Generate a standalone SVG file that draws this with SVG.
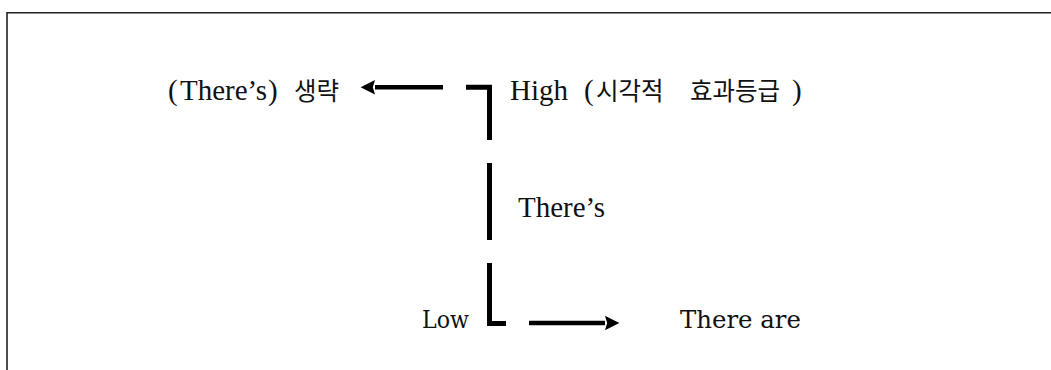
<svg xmlns="http://www.w3.org/2000/svg" width="1051" height="370" viewBox="0 0 1051 370">
<style>
.lat{font-family:"Liberation Serif","Noto Sans CJK KR",serif;font-size:29px;fill:#111}
.kor{font-family:"Noto Sans CJK KR",serif;font-size:24.5px;fill:#111}
.slab{font-family:"DejaVu Serif","Liberation Serif",serif;font-size:24px;fill:#111}
.ln{fill:none;stroke:#000;stroke-width:5;stroke-linecap:butt;stroke-linejoin:miter}
.sh{fill:none;stroke:#000;stroke-width:4.5}
</style>
<defs>
<marker id="ah" viewBox="0 0 10 10" refX="0" refY="5" markerWidth="3.7" markerHeight="3.2" markerUnits="strokeWidth" orient="auto">
<path d="M0,0 L10,5 L0,10 L1.5,5 Z" fill="#000"/>
</marker>
</defs>
<path d="M7,380 V12.7 H1060" fill="none" stroke="#222" stroke-width="1.6"/>
<g id="node-omit">
<text class="lat" y="100"><tspan x="168">(</tspan><tspan x="180">There’s</tspan><tspan x="268">)</tspan><tspan class="kor" x="294" y="100">생략</tspan></text>
</g>
<g id="node-high">
<text class="lat" y="100"><tspan x="510">High</tspan><tspan x="584">(</tspan><tspan class="kor" x="596" y="100">시각적</tspan><tspan class="kor" x="690" y="100">효과등급</tspan><tspan x="792">)</tspan></text>
</g>
<g id="node-theres">
<text class="lat" x="518" y="217">There’s</text>
</g>
<g id="node-low">
<text class="slab" x="422" y="328" textLength="47" lengthAdjust="spacingAndGlyphs">Low</text>
</g>
<g id="node-there-are">
<text class="slab" x="680" y="328" textLength="121" lengthAdjust="spacingAndGlyphs">There are</text>
</g>
<g id="connectors">
<line class="sh" x1="443" y1="87.3" x2="375" y2="87.3" marker-end="url(#ah)"/>
<polyline class="ln" points="466,87.3 489.5,87.3 489.5,140"/>
<line class="ln" x1="489.5" y1="163" x2="489.5" y2="240"/>
<polyline class="ln" points="489.5,263 489.5,323.5 506,323.5"/>
<line class="sh" x1="529" y1="323" x2="605" y2="323" marker-end="url(#ah)"/>
</g>
</svg>
